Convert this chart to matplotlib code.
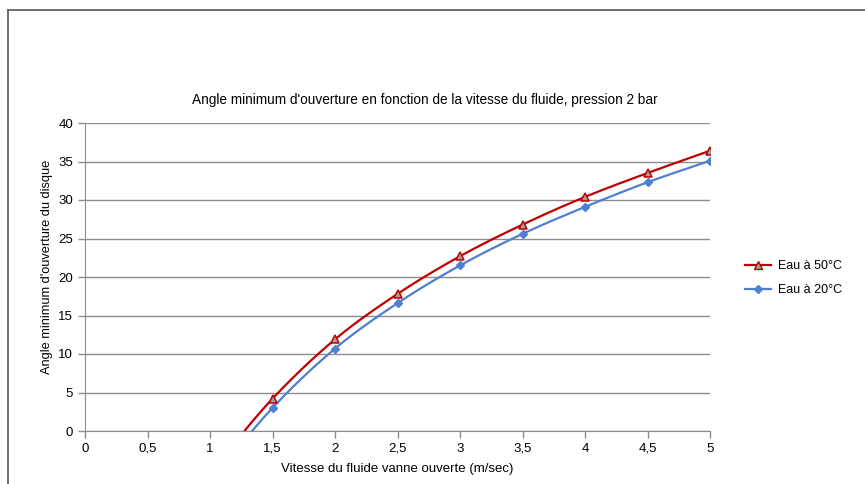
import matplotlib
matplotlib.use("Agg")
import matplotlib.pyplot as plt
from matplotlib.lines import Line2D
import numpy as np

plt.rcParams['font.family'] = ['Liberation Sans', 'DejaVu Sans']

# vitesse (m/s) ; premier point sous l'axe (courbe coupée à 0)
vitesse = [1.0, 1.5, 2.0, 2.5, 3.0, 3.5, 4.0, 4.5, 5.0]
angle_50 = [-5.4, 4.2, 11.9, 17.8, 22.7, 26.8, 30.4, 33.5, 36.4]
angle_20 = [-6.6, 3.0, 10.7, 16.6, 21.5, 25.6, 29.1, 32.3, 35.1]
x_ticks = [0, 0.5, 1, 1.5, 2, 2.5, 3, 3.5, 4, 4.5, 5]
x_labels = ['0', '0,5', '1', '1,5', '2', '2,5', '3', '3,5', '4', '4,5', '5']
y_ticks = [0, 5, 10, 15, 20, 25, 30, 35, 40]


def smooth(x, y, n=30):
    # Catmull-Rom, comme les courbes lissées d'Excel
    x = np.asarray(x, float)
    y = np.asarray(y, float)
    px = np.concatenate([[2 * x[0] - x[1]], x, [2 * x[-1] - x[-2]]])
    py = np.concatenate([[2 * y[0] - y[1]], y, [2 * y[-1] - y[-2]]])
    xs, ys = [], []
    t = np.linspace(0, 1, n)
    for i in range(1, len(px) - 2):
        for p, out in ((px, xs), (py, ys)):
            p0, p1, p2, p3 = p[i - 1], p[i], p[i + 1], p[i + 2]
            out.append(0.5 * (2 * p1 + (-p0 + p2) * t
                              + (2 * p0 - 5 * p1 + 4 * p2 - p3) * t ** 2
                              + (-p0 + 3 * p1 - 3 * p2 + p3) * t ** 3))
    return np.concatenate(xs), np.concatenate(ys)


fig = plt.figure(figsize=(8.65, 4.84), dpi=100)
ax = fig.add_axes([85 / 865, 1 - 431 / 484, 625 / 865, 308 / 484])

red = '#c00000'
blue = '#4f7fd0'

sx, sy = smooth(vitesse, angle_50)
ax.plot(sx, sy, color=red, lw=1.6, zorder=3)
ax.plot(vitesse, angle_50, ls='none', marker='^', ms=6, mfc='#a0a0a0',
        mec=red, mew=1.1, zorder=4)
sx, sy = smooth(vitesse, angle_20)
ax.plot(sx, sy, color=blue, lw=1.6, zorder=3)
ax.plot(vitesse, angle_20, ls='none', marker='D', ms=4.5, mfc=blue,
        mec=blue, zorder=4)

ax.set_xlim(0, 5)
ax.set_ylim(0, 40)
ax.set_xticks(x_ticks)
ax.set_xticklabels(x_labels)
ax.set_yticks(y_ticks)
ax.grid(axis='y', color='#8c8c8c', lw=1)
ax.set_axisbelow(True)
for s in ('top', 'right'):
    ax.spines[s].set_visible(False)
for s in ('left', 'bottom'):
    ax.spines[s].set_color('#8c8c8c')
ax.tick_params(colors='#8c8c8c', labelcolor='black', labelsize=9.5,
               length=5, width=1)

fig.text(425 / 865, 1 - 100 / 484,
         "Angle minimum d'ouverture en fonction de la vitesse du fluide, pression 2 bar",
         fontsize=9.8, ha='center', va='center')
ax.set_xlabel('Vitesse du fluide vanne ouverte (m/sec)', fontsize=9.5, labelpad=6)
ax.set_ylabel("Angle minimum d'ouverture du disque", fontsize=9.2)
ax.yaxis.set_label_coords(-0.051, 0.534)

handles = [
    Line2D([], [], color=red, lw=1.6, marker='^', ms=6, mfc='#a0a0a0', mec=red),
    Line2D([], [], color=blue, lw=1.6, marker='D', ms=4.5, mfc=blue, mec=blue),
]
fig.legend(handles, ['Eau à 50°C', 'Eau à 20°C'], loc='center left',
           bbox_to_anchor=(745 / 865, 1 - 278 / 484), frameon=False,
           fontsize=9, handlelength=2.1, handletextpad=0.55,
           labelspacing=0.95, borderpad=0, borderaxespad=0)

# cadre du graphique
fig.add_artist(Line2D([8 / 865, 8 / 865], [0, 1 - 10 / 484],
                      transform=fig.transFigure, color='#555555', lw=1.2))
fig.add_artist(Line2D([8 / 865, 1], [1 - 10 / 484, 1 - 10 / 484],
                      transform=fig.transFigure, color='#555555', lw=1.2))

fig.savefig('out.png', dpi=100)
